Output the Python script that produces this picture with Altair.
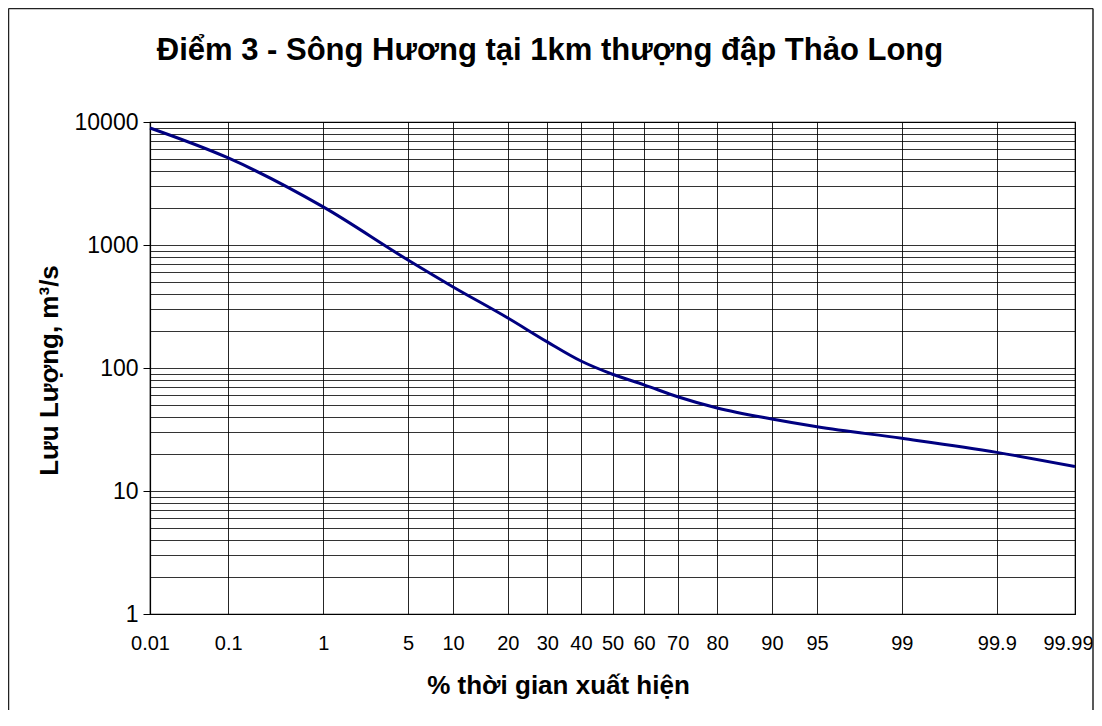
import statistics
import altair as alt
import pandas as pd

# ---- data ----
pct_time = [0.01, 0.1, 1, 5, 10, 20, 30, 40, 50, 60, 70, 80, 90, 95, 99, 99.9, 99.99]
discharge = [8940, 5100, 2040, 755, 456, 255, 163, 114, 89, 73, 58.4, 47.3, 38.5, 33.3, 26.8, 20.6, 15.8]
x_tick_pct = [0.01, 0.1, 1, 5, 10, 20, 30, 40, 50, 60, 70, 80, 90, 95, 99, 99.9, 99.99]
x_tick_labels = ["0.01", "0.1", "1", "5", "10", "20", "30", "40", "50", "60", "70", "80", "90", "95", "99", "99.9", "99.99"]
y_major = [1, 10, 100, 1000, 10000]
y_grid = [m * d for d in [1, 10, 100, 1000] for m in range(1, 10)] + [10000]

TITLE = "Điểm 3 - Sông Hương tại 1km thượng đập Thảo Long"
X_TITLE = "% thời gian xuất hiện"
Y_TITLE = "Lưu Lượng, m³/s"

FONT = "Liberation Sans"
W, H = 925, 492

nd = statistics.NormalDist()


def zq(p):
    return nd.inv_cdf(p / 100.0)


df = pd.DataFrame({"z": [zq(p) for p in pct_time], "Q": discharge, "pct": pct_time})
x_tick_z = [round(zq(p), 4) for p in x_tick_pct]

label_expr = (
    "[" + ",".join("'%s'" % s for s in x_tick_labels) + "]"
    + "[indexof([" + ",".join(repr(v) for v in x_tick_z) + "], round(datum.value*10000)/10000)]"
)
last_tick_test = "datum.value > %r" % (x_tick_z[-1] - 0.01)

x_axis = alt.Axis(
    values=x_tick_z,
    labelExpr=label_expr,
    grid=True,
    gridColor="#000000",
    gridOpacity=0.85,
    gridWidth=1,
    ticks=False,
    domain=True,
    domainColor="#000000",
    domainWidth=1.2,
    labelFont=FONT,
    labelFontSize=20,
    labelColor="#000000",
    labelPadding=19,
    # the last label sits at the page edge: nudge it left so it is not clipped
    labelOffset={"condition": {"test": last_tick_test, "value": -7}, "value": 0},
    labelOverlap=False,
    labelFlush=False,
    labelBound=False,
    title=X_TITLE,
    titleFont=FONT,
    titleFontSize=26,
    titleFontWeight="bold",
    titleColor="#000000",
    titleX=408,
    titleY=79,
    titleAlign="center",
    titleBaseline="alphabetic",
)

y_major_str = "[" + ",".join(str(v) for v in y_major) + "]"
y_axis = alt.Axis(
    values=y_grid,
    labelExpr="indexof(%s, datum.value) >= 0 ? '' + datum.value : ''" % y_major_str,
    grid=True,
    gridColor="#000000",
    gridOpacity=0.8,
    gridWidth=1,
    ticks=True,
    tickColor="#000000",
    tickSize=7,
    tickOpacity={"condition": {"test": "indexof(%s, datum.value) < 0" % y_major_str, "value": 0}, "value": 1},
    domain=True,
    domainColor="#000000",
    domainWidth=1.2,
    labelFont=FONT,
    labelFontSize=23,
    labelColor="#000000",
    labelPadding=5,
    labelOverlap=False,
    labelFlush=False,
    labelBound=False,
    title=Y_TITLE,
    titleFont=FONT,
    titleFontSize=26,
    titleFontWeight="bold",
    titleColor="#000000",
    titleX=-93,
    titleY=248,
    titleAngle=-90,
    titleAlign="center",
    titleBaseline="alphabetic",
)

line = (
    alt.Chart(df)
    .mark_line(color="#000080", strokeWidth=3, interpolate="monotone")
    .encode(
        x=alt.X("z:Q", scale=alt.Scale(domain=[zq(0.01), zq(99.99)], nice=False, zero=False), axis=x_axis),
        y=alt.Y("Q:Q", scale=alt.Scale(type="log", domain=[1, 10000], nice=False), axis=y_axis),
        tooltip=["pct:Q", "Q:Q"],
    )
)

one = pd.DataFrame({"k": [0]})
title_text = alt.Chart(one).mark_text(
    text=TITLE,
    font=FONT,
    fontSize=31,
    fontWeight="bold",
    color="#000000",
    align="center",
    baseline="alphabetic",
).encode(x=alt.value(400), y=alt.value(-62))

frame_top = alt.Chart(one).mark_rule(color="#222222", strokeWidth=1.5).encode(
    x=alt.value(-141.5), x2=alt.value(943), y=alt.value(-113.5)
)
frame_left = alt.Chart(one).mark_rule(color="#222222", strokeWidth=1.5).encode(
    x=alt.value(-141.5), y=alt.value(-113.5), y2=alt.value(700)
)
frame_right = alt.Chart(one).mark_rule(color="#222222", strokeWidth=1.5).encode(
    x=alt.value(943), y=alt.value(-113.5), y2=alt.value(700)
)

chart = (
    alt.layer(line, title_text, frame_top, frame_left, frame_right)
    .properties(
        width=W,
        height=H,
        padding={"left": 142, "top": 114, "right": 19, "bottom": 96},
        autosize=alt.AutoSizeParams(type="none"),
        background="#ffffff",
    )
    .configure_view(stroke="#000000", strokeWidth=1.2)
)

chart.save("out.html", embed_options={"renderer": "svg", "actions": False})
